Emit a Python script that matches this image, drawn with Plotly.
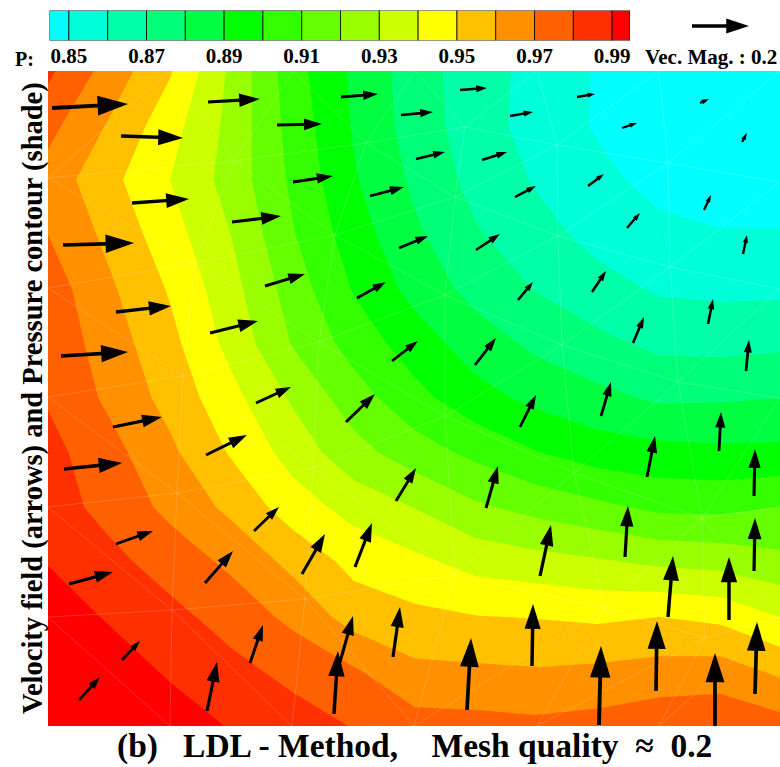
import math
import plotly.graph_objects as go

grid_x = [48, 109, 170, 231, 293, 354, 415, 476, 537, 598, 659, 720, 780]
grid_y = [71, 126, 180, 235, 289, 344, 398, 453, 508, 562, 617, 671, 726]
pressure = [
    [.982, .966, .951, .928, .904, .888, .875, .864, .857, .849, .845, .84, .838],
    [.973, .959, .944, .927, .906, .889, .8755, .8645, .856, .849, .843, .84, .84],
    [.966, .953, .94, .926, .908, .891, .878, .8667, .859, .8525, .847, .845, .845],
    [.97, .9575, .9443, .93, .9107, .8948, .8818, .871, .8637, .8567, .8527, .8507, .8507],
    [.9754, .9617, .949, .9336, .9152, .8992, .8867, .8765, .8694, .8637, .8588, .8579, .8579],
    [.9775, .965, .953, .937, .9193, .906, .895, .8852, .8778, .8726, .8677, .8671, .8682],
    [.979, .9681, .9566, .9432, .9286, .9146, .9031, .8936, .8873, .8827, .8785, .8789, .88],
    [.9833, .9736, .9621, .9491, .936, .9237, .9148, .9076, .9005, .8953, .8933, .8923, .8926],
    [.9848, .9768, .9676, .9577, .9451, .9364, .9299, .9218, .9168, .9125, .9082, .9078, .9103],
    [.9897, .9829, .9756, .968, .9572, .947, .9424, .9364, .9338, .9313, .9281, .9267, .9228],
    [.994, .9893, .983, .976, .9676, .9557, .9524, .9504, .9496, .9482, .95, .9476, .94],
    [.997, .994, .989, .983, .9771, .9711, .9623, .9617, .9608, .962, .9638, .9647, .958],
    [1.002, .9975, .994, .9895, .9845, .9795, .974, .9734, .9723, .9737, .9767, .9775, .974],
]

# ---- legend bands ----
band_colors = ["#00FFFF", "#00FFD8", "#00FFA8", "#00FF78", "#00FF40", "#00FF00", "#33FF00", "#66FF00",
               "#99FF00", "#CCFF00", "#FFFF00", "#FFC000", "#FF9000", "#FF6000", "#FF3000", "#FF0000"]
band_edges = [.845, .85, .86, .87, .88, .89, .90, .91, .92, .93, .94, .95, .96, .97, .98, .99, .9946]
tick_values = [.85, .87, .89, .91, .93, .95, .97, .99]
tick_labels = ["0.85", "0.87", "0.89", "0.91", "0.93", "0.95", "0.97", "0.99"]

# ---- velocity arrows: tail and tip ----
tail_x = [52, 121, 208, 277, 341, 401, 460, 510, 577, 622, 700, 742, 132, 232, 63, 293, 416, 482, 370, 515, 588,
          399, 476, 627, 704, 265, 357, 518, 592, 743, 116, 210, 61, 708, 633, 392, 475, 256, 746, 601, 346, 520,
          113, 206, 719, 647, 754, 64, 396, 486, 540, 625, 754, 116, 254, 205, 355, 302, 69, 668, 729, 393, 532,
          334, 340, 250, 207, 122, 79, 467, 599, 656, 715, 755]
tail_y = [108, 136, 102, 125, 97, 115, 90, 116, 97, 128, 103, 142, 203, 222, 245, 182, 159, 160, 196, 197, 186,
          248, 250, 228, 210, 286, 298, 300, 292, 254, 312, 333, 356, 324, 343, 361, 365, 403, 371, 416, 422, 427,
          427, 455, 451, 477, 496, 469, 501, 508, 576, 557, 571, 544, 531, 583, 567, 574, 584, 617, 620, 657, 666,
          714, 662, 663, 711, 660, 700, 710, 725, 691, 726, 694]
tip_x = [128, 183, 260, 322, 378, 433, 487, 533, 595, 637, 709, 747, 189, 281, 134, 333, 445, 507, 404, 536, 604,
         428, 500, 640, 711, 305, 386, 533, 606, 747, 171, 258, 128, 713, 644, 418, 496, 291, 749, 611, 375, 536,
         162, 247, 721, 655, 755, 122, 416, 498, 551, 628, 755, 153, 279, 233, 372, 325, 113, 673, 729, 400, 533,
         338, 353, 263, 217, 140, 100, 471, 601, 657, 715, 757]
tip_y = [104, 138, 99, 124, 94, 112, 88, 112, 94, 123, 99, 133, 199, 216, 243, 176, 152, 152, 187, 186, 174,
         236, 234, 213, 195, 274, 282, 282, 271, 235, 306, 321, 352, 299, 317, 341, 338, 387, 340, 382, 394, 395,
         417, 435, 412, 436, 449, 463, 468, 466, 525, 506, 518, 531, 507, 551, 523, 534, 572, 556, 557, 607, 604,
         651, 616, 625, 662, 641, 677, 638, 646, 621, 653, 622]
key_tail = [692, 26]
key_tip = [749, 26]

# ---- triangular mesh nodes shown as faint lines ----
mesh_x = [[48, 170, 293, 415, 537, 659, 780],
          [48, 234, 366, 465, 557, 668, 780],
          [48, 195, 335, 455, 558, 670, 780],
          [48, 183, 319, 445, 562, 678, 780],
          [48, 177, 313, 445, 574, 702, 780],
          [48, 172, 305, 455, 605, 705, 780],
          [48, 170, 292, 414, 537, 659, 780]]
mesh_y = [[71, 71, 71, 71, 71, 71, 71],
          [178, 161, 143, 127, 145, 163, 182],
          [288, 263, 235, 197, 236, 267, 289],
          [397, 376, 342, 295, 345, 382, 398],
          [507, 493, 468, 416, 473, 518, 507],
          [617, 610, 599, 575, 608, 638, 617],
          [726, 726, 726, 726, 726, 726, 726]]
mesh_diag = ["LLLLLL", "RRRLLL", "RRRLLL", "RRRLLL", "RRRLLR", "RRRLLL"]

SERIF = "Liberation Serif"
fig = go.Figure()

fig.add_trace(go.Contour(
    x=grid_x, y=grid_y, z=pressure, xaxis="x", yaxis="y", showscale=False, hoverinfo="skip",
    autocontour=False, line=dict(width=0, smoothing=0), zauto=False, zmin=.845, zmax=.995,
    contours=dict(coloring="fill", start=.85, end=.99, size=.01, showlines=False),
    colorscale=[[i / (len(band_colors) - 1), c] for i, c in enumerate(band_colors)],
))

mx, my = [], []
rows, cols = len(mesh_x), len(mesh_x[0])
def seg(r1, c1, r2, c2):
    mx.extend([mesh_x[r1][c1], mesh_x[r2][c2], None])
    my.extend([mesh_y[r1][c1], mesh_y[r2][c2], None])
for r in range(rows):
    for c in range(cols):
        if c + 1 < cols and 0 < r < rows - 1:
            seg(r, c, r, c + 1)
        if r + 1 < rows and 0 < c < cols - 1:
            seg(r, c, r + 1, c)
        if r + 1 < rows and c + 1 < cols:
            if mesh_diag[r][c] == "L":
                seg(r, c + 1, r + 1, c)
            else:
                seg(r, c, r + 1, c + 1)
fig.add_trace(go.Scatter(x=mx, y=my, mode="lines", hoverinfo="skip", showlegend=False,
                         line=dict(color="rgba(255,255,255,0.24)", width=0.7)))

def add_arrow(x0, y0, x1, y1, xa, ya):
    dx, dy = x1 - x0, y1 - y0
    length = math.hypot(dx, dy)
    head = max(length * 0.38, 7)
    size = head / 0.95 * 1.05
    frac = max(0, 1 - 0.75 * head / length)
    fig.add_trace(go.Scatter(x=[x0, x0 + dx * frac], y=[y0, y0 + dy * frac], mode="lines", xaxis=xa, yaxis=ya,
                             hoverinfo="skip", showlegend=False, line=dict(color="black", width=1.9 + 0.025 * length)))
    fig.add_trace(go.Scatter(x=[x1], y=[y1], mode="markers", xaxis=xa, yaxis=ya, hoverinfo="skip", showlegend=False,
                             marker=dict(symbol="arrow", size=size, color="black", line=dict(width=0),
                                         angle=math.degrees(math.atan2(dx, -dy)))))

for x0, y0, x1, y1 in zip(tail_x, tail_y, tip_x, tip_y):
    add_arrow(x0, y0, x1, y1, "x", "y")
add_arrow(key_tail[0], key_tail[1], key_tip[0], key_tip[1], "x3", "y3")

fig.add_trace(go.Bar(
    x=[band_edges[i + 1] - band_edges[i] for i in range(len(band_colors))],
    base=band_edges[:-1], y=[0] * len(band_colors), orientation="h", width=1, xaxis="x2", yaxis="y2",
    marker=dict(color=band_colors, line=dict(color="black", width=0.8)), hoverinfo="skip", showlegend=False,
))

W, H = 780, 767
def text(s, x, y, size, angle=0, anchor="center"):
    fig.add_annotation(text=s, x=x / W, y=1 - y / H, xref="paper", yref="paper", showarrow=False, textangle=angle,
                       xanchor=anchor, yanchor="middle", font=dict(family=SERIF, size=size, color="black", weight=700))

text("P:", 25, 59, 20)
text("Vec. Mag. : 0.2", 710.5, 57, 21)
text("(b)&nbsp;&nbsp;&nbsp;LDL - Method,&nbsp;&nbsp;&nbsp;&nbsp;Mesh quality&nbsp;&nbsp;≈&nbsp;&nbsp;0.2", 414, 746, 33.5)
text("Velocity field (arrows) and Pressure contour (shade)", 33, 398, 28.5, angle=-90)

fig.update_layout(
    width=W, height=H, margin=dict(l=0, r=0, t=0, b=0), autosize=False,
    paper_bgcolor="white", plot_bgcolor="rgba(0,0,0,0)", showlegend=False, barmode="overlay",
    xaxis=dict(domain=[48 / W, 1], range=[48, 780], visible=False),
    yaxis=dict(domain=[1 - 726 / H, 1 - 71 / H], range=[726, 71], visible=False),
    xaxis2=dict(domain=[49.5 / W, 630 / W], range=[.845, .9946], anchor="y2", showgrid=False, zeroline=False,
                tickvals=tick_values, ticktext=tick_labels, ticklen=8, tickcolor="rgba(0,0,0,0)", showline=False,
                tickfont=dict(family=SERIF, size=21, color="black", weight=700)),
    yaxis2=dict(domain=[1 - 40.5 / H, 1 - 10.5 / H], range=[-.5, .5], anchor="x2", visible=False),
    xaxis3=dict(domain=[0, 1], range=[0, W], visible=False, anchor="y3"),
    yaxis3=dict(domain=[0, 1], range=[H, 0], visible=False, anchor="x3"),
)

fig.write_html("out.html", config={"displayModeBar": False},
               post_script="document.body.style.margin='0';document.body.style.overflow='hidden';")
